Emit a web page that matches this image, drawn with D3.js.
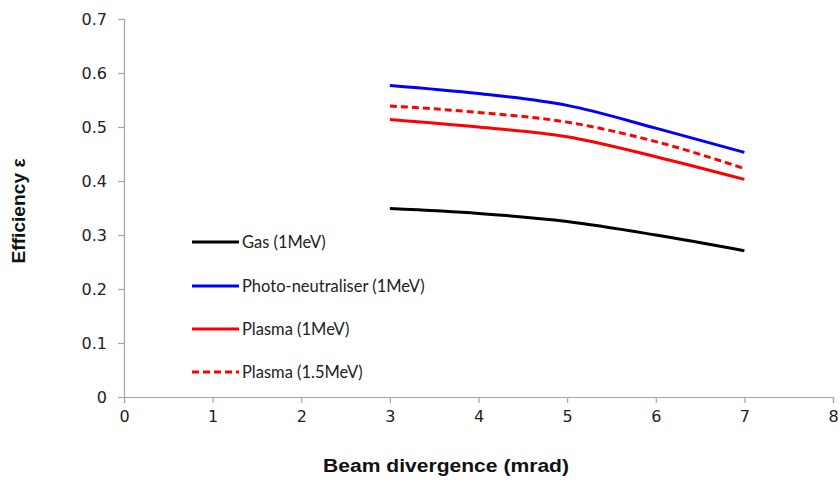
<!DOCTYPE html>
<html><head><meta charset="utf-8">
<script src="https://cdn.jsdelivr.net/npm/d3@7"></script>
<style>body{margin:0;background:#fff}</style>
</head><body>
<script>
const divergence = [3, 4, 5, 6, 7];
const gas = [0.349, 0.340, 0.325, 0.300, 0.271];
const photo = [0.577, 0.562, 0.540, 0.498, 0.453];
const plasma1 = [0.514, 0.500, 0.482, 0.445, 0.403];
const plasma15 = [0.539, 0.527, 0.509, 0.473, 0.423];
const seriesNames = ["Gas (1MeV)", "Photo-neutraliser (1MeV)", "Plasma (1MeV)", "Plasma (1.5MeV)"];
const xTicks = [0,1,2,3,4,5,6,7,8];
const yTicks = [0,0.1,0.2,0.3,0.4,0.5,0.6,0.7];

const series = [
  {name: seriesNames[0], values: gas, color: "#000000", dash: null},
  {name: seriesNames[1], values: photo, color: "#0000ff", dash: null},
  {name: seriesNames[2], values: plasma1, color: "#ff0000", dash: null},
  {name: seriesNames[3], values: plasma15, color: "#ff0000", dash: "7,4"}
];

const W = 840, H = 484;
const svg = d3.select("body").append("svg").attr("width", W).attr("height", H);
const x = d3.scaleLinear().domain([0, 8]).range([124, 833]);
const y = d3.scaleLinear().domain([0, 0.7]).range([397, 19]);

const axisColor = "#a6a6a6";
const gx = svg.append("g").attr("transform", "translate(0,397)")
  .call(d3.axisBottom(x).tickValues(xTicks).tickFormat(d3.format("d")).tickSize(6).tickPadding(8));
const gy = svg.append("g").attr("transform", "translate(124,0)")
  .call(d3.axisLeft(y).tickValues(yTicks).tickFormat(d => d === 0 ? "0" : d3.format(".1f")(d)).tickSize(6).tickPadding(11));
[gx, gy].forEach(g => {
  g.select(".domain").attr("stroke", axisColor).attr("stroke-width", 1.2);
  g.selectAll(".tick line").attr("stroke", axisColor).attr("stroke-width", 1.2);
  g.selectAll(".tick text").attr("fill", "#222").style("font-family", "DejaVu Sans").style("font-size", "16px");
});
gy.selectAll(".tick text").attr("dy", "0.35em");

const line = d3.line().x((d, i) => x(divergence[i])).y(d => y(d)).curve(d3.curveMonotoneX);
series.forEach(s => {
  svg.append("path").datum(s.values).attr("d", line)
    .attr("fill", "none").attr("stroke", s.color).attr("stroke-width", 3)
    .attr("stroke-dasharray", s.dash);
});

// legend
const legendY = [242, 286, 329, 372];
series.forEach((s, i) => {
  svg.append("line").attr("x1", 192).attr("x2", 239).attr("y1", legendY[i]).attr("y2", legendY[i])
    .attr("stroke", s.color).attr("stroke-width", 3).attr("stroke-dasharray", s.dash);
  svg.append("text").attr("x", 242).attr("y", legendY[i]).attr("dy", "0.35em")
    .style("font-family", "Lato").style("font-size", "16.5px").attr("fill", "#222").text(s.name);
});

svg.append("text").attr("x", 446).attr("y", 472).attr("text-anchor", "middle")
  .attr("textLength", 246).attr("lengthAdjust", "spacingAndGlyphs")
  .style("font-family", "Liberation Sans").style("font-weight", "bold").style("font-size", "18px")
  .attr("fill", "#111").text("Beam divergence (mrad)");
svg.append("text").attr("transform", "translate(25,211) rotate(-90)").attr("text-anchor", "middle")
  .attr("textLength", 105).attr("lengthAdjust", "spacingAndGlyphs")
  .style("font-family", "Liberation Sans").style("font-weight", "bold").style("font-size", "18px")
  .attr("fill", "#111").text("Efficiency ε");
</script>
</body></html>
